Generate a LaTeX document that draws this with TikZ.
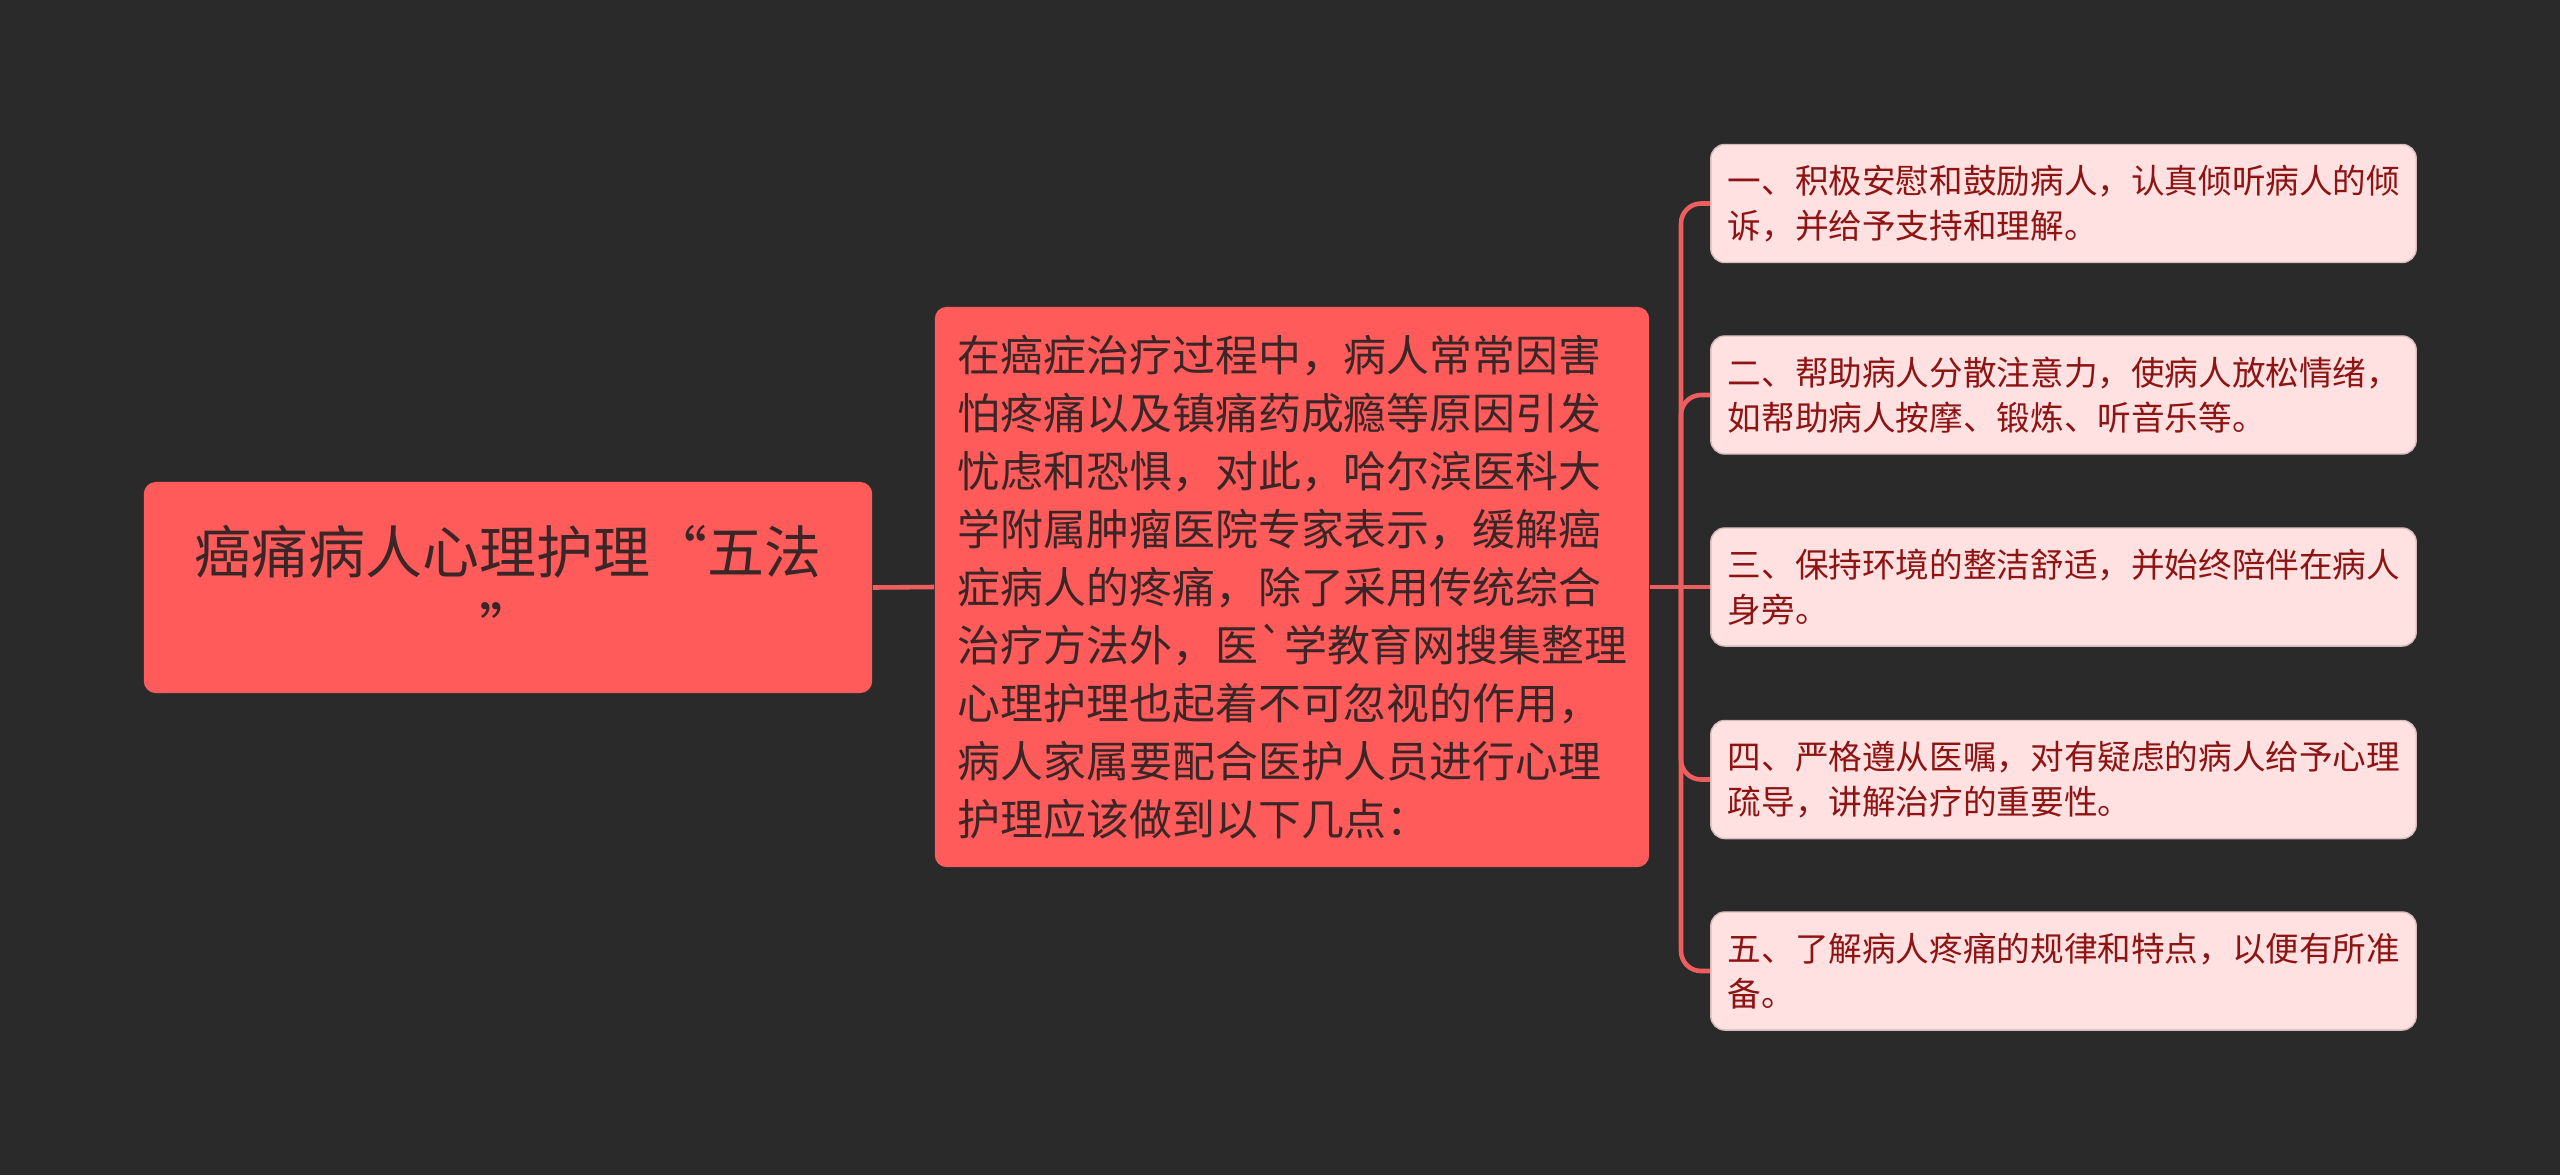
\documentclass[tikz,border=0pt]{standalone}
\usepackage{fontspec}
\newfontfamily\cjk{Noto Sans CJK SC}
\definecolor{bgc}{HTML}{2A2A2A}
\definecolor{redfill}{HTML}{FF5B5B}
\definecolor{darktext}{HTML}{3A2626}
\definecolor{pinkfill}{HTML}{FFE1E1}
\definecolor{pinkedge}{HTML}{D8BCBC}
\definecolor{leaftext}{HTML}{8E1414}
\definecolor{linec}{HTML}{EE5E5E}
\tikzset{
  rootbox/.style={fill=redfill, rounded corners=0.12cm, minimum width=7.28cm, minimum height=2.11cm,
    inner sep=0pt, text width=6.9cm, align=center, text=darktext,
    font=\cjk\fontsize{16.2pt}{21.9pt}\selectfont},
  midbox/.style={fill=redfill, rounded corners=0.12cm, minimum width=7.14cm, minimum height=5.60cm,
    inner xsep=0.23cm, inner ysep=0pt, text width=6.68cm, align=left, text=darktext,
    font=\cjk\fontsize{12.2pt}{16.5pt}\selectfont},
  leafbox/.style={fill=pinkfill, draw=pinkedge, line width=0.4pt, rounded corners=0.14cm,
    minimum width=7.05cm, minimum height=1.18cm,
    inner xsep=0.17cm, inner ysep=0pt, text width=6.71cm, align=left, text=leaftext,
    font=\cjk\fontsize{9.56pt}{12.8pt}\selectfont},
  link/.style={draw=linec, line width=1.3pt},
}
\begin{document}
\begin{tikzpicture}[x=0.01cm,y=-0.01cm]
\fill[bgc] (0,0) rectangle (2560,1175);
\useasboundingbox (0,0) rectangle (2560,1175);

\node[rootbox] (root) at (508,587.5) {癌痛病人心理护理“五法\\”};

\node[midbox] (mid) at (1292,587) {在癌症治疗过程中，病人常常因害\\怕疼痛以及镇痛药成瘾等原因引发\\忧虑和恐惧，对此，哈尔滨医科大\\学附属肿瘤医院专家表示，缓解癌\\症病人的疼痛，除了采用传统综合\\治疗方法外，医`学教育网搜集整理\\心理护理也起着不可忽视的作用，\\病人家属要配合医护人员进行心理\\护理应该做到以下几点：};

\node[leafbox] (b1) at (2063.5,203.5) {一、积极安慰和鼓励病人，认真倾听病人的倾\\诉，并给予支持和理解。};
\node[leafbox] (b2) at (2063.5,395) {二、帮助病人分散注意力，使病人放松情绪，\\如帮助病人按摩、锻炼、听音乐等。};
\node[leafbox] (b3) at (2063.5,587) {三、保持环境的整洁舒适，并始终陪伴在病人\\身旁。};
\node[leafbox] (b4) at (2063.5,779.5) {四、严格遵从医嘱，对有疑虑的病人给予心理\\疏导，讲解治疗的重要性。};
\node[leafbox] (b5) at (2063.5,971) {五、了解病人疼痛的规律和特点，以便有所准\\备。};

\coordinate (tr) at (1681,587);
\draw[link] (root.east) -- (mid.west);
\draw[link] (mid.east) -- (tr);
\draw[link] (tr) -- (b3.west);
\draw[link, rounded corners=0.2cm] (tr) |- (b1.west);
\draw[link, rounded corners=0.2cm] (tr) |- (b2.west);
\draw[link, rounded corners=0.2cm] (tr) |- (b4.west);
\draw[link, rounded corners=0.2cm] (tr) |- (b5.west);
\end{tikzpicture}
\end{document}
